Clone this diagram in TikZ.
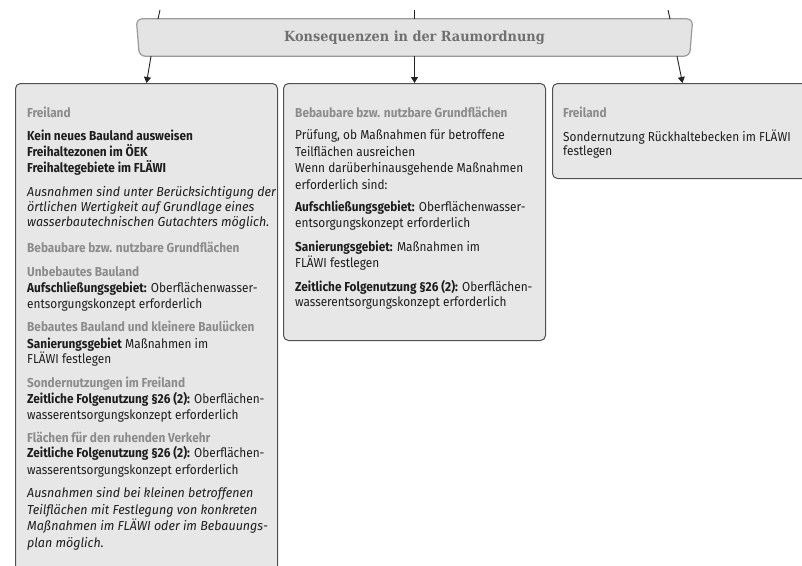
\documentclass[tikz,border=0pt]{standalone}
\usepackage{fontspec}
\setmainfont[FakeStretch=0.91]{Fira Sans}
\newfontfamily\itfam[FakeStretch=0.96]{Fira Sans}
\newfontfamily\slabfont[FakeStretch=0.92]{DejaVu Serif}
\usetikzlibrary{arrows.meta}
\definecolor{boxfill}{HTML}{E7E7E7}
\definecolor{boxline}{HTML}{505050}
\definecolor{banfill}{HTML}{E4E4E4}
\definecolor{banline}{HTML}{9A9A9A}
\definecolor{headcol}{HTML}{8C8C8C}
\definecolor{bodycol}{HTML}{1E1E1E}
\definecolor{bantext}{HTML}{707070}
\definecolor{arrcol}{HTML}{222222}
\begin{document}
\begin{tikzpicture}[x=1pt,y=-1pt,
  panel/.style={draw=boxline,fill=boxfill,line width=1pt,rounded corners=5pt,inner sep=0pt,anchor=north west},
  banbox/.style={inner sep=0pt,minimum width=556pt,minimum height=37pt,font=\slabfont\bfseries\fontsize{14}{17}\selectfont,text=bantext},
  txt/.style={anchor=base west,inner sep=0pt,font=\fontsize{13}{15}\selectfont,text=bodycol},
  head/.style={txt,font=\fontsize{13}{15}\selectfont\bfseries,text=headcol},
  bold/.style={txt,font=\fontsize{13}{15}\selectfont\bfseries},
  ital/.style={txt,font=\itfam\fontsize{13}{15}\selectfont\itshape},
  arr/.style={draw=arrcol,line width=0.9pt,-{Triangle[length=6pt,width=7pt]}},
  feed/.style={draw=arrcol,line width=0.9pt}]
\useasboundingbox (0,0) rectangle (802,565);
\clip (0,0) rectangle (802,565);
% boxes
\node[panel,minimum width=262pt,minimum height=540pt] (lbox) at (15,83) {};
\node[panel,minimum width=262pt,minimum height=257pt] (mbox) at (283,83) {};
\node[panel,minimum width=260pt,minimum height=95pt] (rbox) at (552,83) {};
% banner
\node[banbox] (ban) at (414.5,37.5) {};
\draw[draw=banline,fill=banfill,line width=1.2pt,rounded corners=6pt]
  (ban.north west) -- ([xshift=3pt]ban.south west) -- ([xshift=-3pt]ban.south east) -- (ban.north east) -- cycle;
\node[banbox] (bantitle) at (ban.center) {Konsequenzen in der Raumordnung};
% incoming lines from above
\coordinate (inL) at (160,10);
\coordinate (inM) at (414,10);
\coordinate (inR) at (668,10);
\draw[feed] (inL) -- (158,19);
\draw[feed] (inM) -- (414,19);
\draw[feed] (inR) -- (670,19);
% arrows
\draw[arr] ([xshift=-263.5pt]ban.south) -- (lbox.north);
\draw[arr] (ban.south) -- (mbox.north);
\draw[arr] ([xshift=262.5pt]ban.south) -- (rbox.north);
% left box text
\node[head] (L1) at (27,117) {Freiland};
\node[bold] (L2) at (27,140) {Kein neues Bauland ausweisen};
\node[bold] (L3) at (27,156) {Freihaltezonen im ÖEK};
\node[bold] (L4) at (27,172) {Freihaltegebiete im FLÄWI};
\node[ital] (L5) at (27,196) {Ausnahmen sind unter Berücksichtigung der};
\node[ital] (L6) at (27,211) {örtlichen Wertigkeit auf Grundlage eines};
\node[ital] (L7) at (27,226) {wasserbautechnischen Gutachters möglich.};
\node[head] (L8) at (27,252) {Bebaubare bzw. nutzbare Grundflächen};
\node[head] (L9) at (27,276) {Unbebautes Bauland};
\node[txt] (L10) at (27,292) {\textbf{Aufschließungsgebiet:} Oberflächenwasser-};
\node[txt] (L11) at (27,308) {entsorgungskonzept erforderlich};
\node[head] (L12) at (27,331) {Bebautes Bauland und kleinere Baulücken};
\node[txt] (L13) at (27,348) {\textbf{Sanierungsgebiet} Maßnahmen im};
\node[txt] (L14) at (27,363) {FLÄWI festlegen};
\node[head] (L15) at (27,387) {Sondernutzungen im Freiland};
\node[txt] (L16) at (27,403) {\textbf{Zeitliche Folgenutzung §26 (2):} Oberflächen-};
\node[txt] (L17) at (27,419) {wasserentsorgungskonzept erforderlich};
\node[head] (L18) at (27,442) {Flächen für den ruhenden Verkehr};
\node[txt] (L19) at (27,457) {\textbf{Zeitliche Folgenutzung §26 (2):} Oberflächen-};
\node[txt] (L20) at (27,474) {wasserentsorgungskonzept erforderlich};
\node[ital] (L21) at (27,497) {Ausnahmen sind bei kleinen betroffenen};
\node[ital] (L22) at (27,514) {Teilflächen mit Festlegung von konkreten};
\node[ital] (L23) at (27,530) {Maßnahmen im FLÄWI oder im Bebauungs-};
\node[ital] (L24) at (27,547) {plan möglich.};
% middle box text
\node[head] (M1) at (295,117) {Bebaubare bzw. nutzbare Grundflächen};
\node[txt] (M2) at (295,139) {Prüfung, ob Maßnahmen für betroffene};
\node[txt] (M3) at (295,156) {Teilflächen ausreichen};
\node[txt] (M4) at (295,172) {Wenn darüberhinausgehende Maßnahmen};
\node[txt] (M5) at (295,189) {erforderlich sind:};
\node[txt] (M6) at (295,211) {\textbf{Aufschließungsgebiet:} Oberflächenwasser-};
\node[txt] (M7) at (295,227) {entsorgungskonzept erforderlich};
\node[txt] (M8) at (295,251) {\textbf{Sanierungsgebiet:} Maßnahmen im};
\node[txt] (M9) at (295,267) {FLÄWI festlegen};
\node[txt] (M10) at (295,291) {\textbf{Zeitliche Folgenutzung §26 (2):} Oberflächen-};
\node[txt] (M11) at (295,306) {wasserentsorgungskonzept erforderlich};
% right box text
\node[head] (R1) at (563,117) {Freiland};
\node[txt] (R2) at (563,141) {Sondernutzung Rückhaltebecken im FLÄWI};
\node[txt] (R3) at (563,155) {festlegen};
\end{tikzpicture}
\end{document}
